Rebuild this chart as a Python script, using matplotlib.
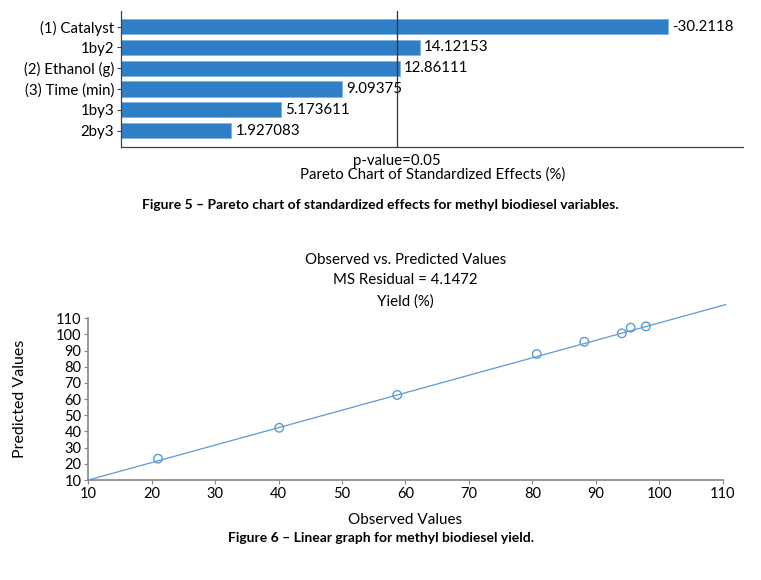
import numpy as np
import matplotlib.pyplot as plt

plt.rcParams['font.family'] = ['Lato', 'DejaVu Sans']

# Pareto chart of standardized effects
effects = ["(1) Catalyst", "1by2", "(2) Ethanol (g)", "(3) Time (min)", "1by3", "2by3"]
effect_values = [-30.2118, 14.12153, 12.86111, 9.09375, 5.173611, 1.927083]
effect_labels = ["-30.2118", "14.12153", "12.86111", "9.09375", "5.173611", "1.927083"]
p_limit = 12.63

# observed vs predicted yield
observed = [21.0, 40.1, 58.7, 80.7, 88.2, 94.1, 95.5, 97.9]
predicted = [23.2, 42.3, 62.6, 87.9, 95.5, 100.7, 104.2, 105.0]
fit_x = [10, 110.5]
fit_y = [10, 118.5]
ticks = list(range(10, 111, 10))

bar_blue = '#2f7fc6'
pt_blue = '#5b9bd5'
grey = '#868686'
fs = 10.8

fig = plt.figure(figsize=(7.61, 5.8), dpi=100)

# --- Figure 5 ---
ax1 = fig.add_axes([0.159, 0.747, 0.8177, 0.234])
pos = np.arange(len(effects))
mag = np.abs(effect_values)
x0 = -5.21
ax1.barh(pos, mag - x0, left=x0, height=0.74, color=bar_blue,
         edgecolor='#7fb2e0', linewidth=0.6)
for i, (m, lab) in enumerate(zip(mag, effect_labels)):
    ax1.text(m + 0.26, i, lab, va='center', ha='left', fontsize=fs)
ax1.axvline(p_limit, color='#333333', lw=0.9)
ax1.set_xlim(x0, 35.07)
ax1.set_ylim(5.78, -0.755)
ax1.set_yticks(pos)
ax1.set_yticklabels(effects, fontsize=fs)
ax1.set_xticks([])
for s in ['top', 'right']:
    ax1.spines[s].set_visible(False)
for s in ['left', 'bottom']:
    ax1.spines[s].set_color('#404040')
    ax1.spines[s].set_linewidth(0.9)
ax1.tick_params(axis='y', length=3, width=0.8, color='#404040', pad=2)
ax1.text(p_limit, -0.103, 'p-value=0.05', transform=ax1.get_xaxis_transform(),
         ha='center', va='center', fontsize=fs)
ax1.text(0.5, -0.205, 'Pareto Chart of Standardized Effects (%)', transform=ax1.transAxes,
         ha='center', va='center', fontsize=fs)
fig.text(0.5, 0.6466, 'Figure 5 \u2013 Pareto chart of standardized effects for methyl biodiesel variables.',
         ha='center', va='center', fontsize=10, fontweight='bold')

# --- Figure 6 ---
ax2 = fig.add_axes([0.116, 0.1724, 0.8336, 0.2788])
ax2.plot(fit_x, fit_y, color=pt_blue, lw=0.9, clip_on=False)
ax2.scatter(observed, predicted, s=38, facecolors='none', edgecolors=pt_blue,
            linewidths=1.0, clip_on=False, zorder=3)
ax2.set_xlim(10, 110)
ax2.set_ylim(10, 110)
ax2.set_xticks(ticks)
ax2.set_yticks(ticks)
ax2.tick_params(labelsize=10.5, length=3, width=0.8, color=grey, pad=2)
for s in ['top', 'right']:
    ax2.spines[s].set_visible(False)
for s in ['left', 'bottom']:
    ax2.spines[s].set_color(grey)
    ax2.spines[s].set_linewidth(1.2)

cx = 0.5329
fig.text(cx, 0.5517, 'Observed vs. Predicted Values', ha='center', va='center', fontsize=fs)
fig.text(cx, 0.5164, 'MS Residual = 4.1472', ha='center', va='center', fontsize=fs)
fig.text(cx, 0.4798, 'Yield (%)', ha='center', va='center', fontsize=fs)
fig.text(cx, 0.1034, 'Observed Values', ha='center', va='center', fontsize=11)
fig.text(0.026, 0.312, 'Predicted Values', ha='center', va='center', rotation=90, fontsize=11.5)
fig.text(0.5, 0.0719, 'Figure 6 \u2013 Linear graph for methyl biodiesel yield.',
         ha='center', va='center', fontsize=10, fontweight='bold')

fig.savefig('out.png', dpi=100)
